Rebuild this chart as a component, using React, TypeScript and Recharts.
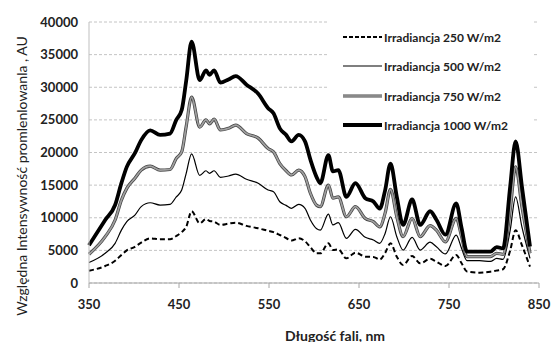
import React from 'react';
import { LineChart, Line, XAxis, YAxis, CartesianGrid, Legend, Label } from 'recharts';

const FONT = "Lato, 'Open Sans', 'DejaVu Sans', sans-serif";

const wavelengths = [350, 368, 379, 386, 392, 401, 408, 418, 429, 440, 447, 453, 458, 464, 473, 480, 484, 489, 496, 505, 513, 525, 538, 549, 555, 562, 569, 575, 583, 590, 596, 603, 607, 616, 621, 627, 636, 646, 657, 666, 673, 679, 685, 692, 699, 709, 718, 729, 736, 746, 758, 764, 770, 784, 796, 803, 810, 818, 824, 831, 840];

const irr1000 = [5800, 9650, 11950, 15300, 17800, 19900, 21900, 23400, 22700, 22900, 25000, 26500, 31000, 37000, 31100, 32600, 31900, 32600, 30700, 31200, 31700, 30400, 29000, 26800, 26000, 23700, 22700, 21700, 22700, 21700, 18900, 16200, 15300, 19600, 17100, 17300, 13200, 15300, 13000, 12500, 11400, 14200, 18300, 13200, 8900, 12800, 8900, 11000, 9700, 7400, 12200, 8400, 4800, 4800, 4800, 5500, 5300, 14800, 21700, 14800, 5600];

const irr750 = [4400, 7100, 9650, 12700, 14500, 16050, 17300, 17900, 17300, 17400, 19100, 20100, 24000, 28500, 23900, 25000, 24400, 25100, 23450, 23700, 24200, 22900, 22200, 20600, 20100, 18300, 17200, 16550, 17300, 16300, 13750, 11900, 11700, 15000, 13000, 13200, 10150, 11700, 9900, 9400, 8600, 10700, 14350, 10150, 7100, 9900, 7100, 8800, 8100, 6300, 9900, 7100, 4050, 4050, 4050, 4550, 4400, 11200, 17800, 11700, 4550];

const irr500 = [3150, 4550, 6080, 8100, 9400, 10400, 11700, 12300, 11950, 12050, 13200, 14250, 16800, 19800, 16500, 17200, 16800, 17200, 16200, 16400, 16700, 15900, 15300, 14250, 14000, 12450, 11900, 11450, 12050, 11450, 9650, 8300, 8100, 10550, 8900, 9250, 6850, 8230, 7000, 6600, 6080, 7600, 10150, 7100, 5050, 7000, 5050, 6250, 5550, 4450, 7350, 5300, 3420, 3420, 3300, 3780, 3630, 8100, 13200, 8600, 3780];

const irr250 = [1890, 2600, 3400, 4300, 5000, 5550, 6200, 6850, 6700, 6700, 7200, 7800, 8600, 11000, 9150, 9800, 9500, 9400, 8900, 9100, 9250, 8750, 8380, 8000, 7800, 7360, 6900, 6500, 6850, 6400, 5500, 4550, 4550, 6080, 5060, 5160, 3780, 4650, 4030, 4000, 3600, 4600, 6080, 4030, 2760, 4140, 3020, 3700, 3270, 2600, 4290, 3020, 1750, 1580, 1730, 1900, 2100, 5000, 8100, 5800, 2500];

const xTicks = [350, 450, 550, 650, 750, 850];
const yTicks = [0, 5000, 10000, 15000, 20000, 25000, 30000, 35000, 40000];

const seriesLabels = ['Irradiancja 250 W/m2', 'Irradiancja 500 W/m2', 'Irradiancja 750 W/m2', 'Irradiancja 1000 W/m2'];

const data = wavelengths.map((x, i) => ({
  x,
  s250: irr250[i],
  s500: irr500[i],
  s750: irr750[i],
  s1000: irr1000[i],
}));

function LegendSample({ kind, y }: { kind: number; y: number }) {
  const x1 = 16;
  const x2 = 55;
  if (kind === 0) return <line x1={x1} x2={x2} y1={y} y2={y} stroke="#000" strokeWidth={2} strokeDasharray="4 2" />;
  if (kind === 1) return <line x1={x1} x2={x2} y1={y} y2={y} stroke="#000" strokeWidth={1.2} />;
  if (kind === 2)
    return (
      <g>
        <line x1={x1} x2={x2} y1={y} y2={y} stroke="#444" strokeWidth={3.2} />
        <line x1={x1} x2={x2} y1={y} y2={y} stroke="#a0a0a0" strokeWidth={1.7} />
      </g>
    );
  return <line x1={x1} x2={x2} y1={y} y2={y} stroke="#000" strokeWidth={3.8} />;
}

function LegendContent() {
  const rows = [21, 50, 80, 109];
  return (
    <svg width={205} height={122}>
      {seriesLabels.map((label, i) => (
        <g key={label}>
          <LegendSample kind={i} y={rows[i]} />
          <text x={57} y={rows[i]} dominantBaseline="central" fontFamily={FONT} fontWeight={700} fontSize={12} fill="#222">
            {label}
          </text>
        </g>
      ))}
    </svg>
  );
}

export default function App() {
  return (
    <div style={{ position: 'absolute', left: 0, top: 0, background: '#fff' }}>
      <LineChart width={551} height={342} data={data} margin={{ top: 22, right: 12, bottom: 0, left: 0 }}>
        <CartesianGrid vertical={false} stroke="#c4c4c4" strokeDasharray="3 2" />
        <XAxis
          dataKey="x"
          type="number"
          domain={[350, 850]}
          ticks={xTicks}
          interval={0}
          height={59}
          tickSize={5}
          tickMargin={12}
          stroke="#a6a6a6"
          tick={{ fill: '#222', fontSize: 13, fontWeight: 700, fontFamily: FONT }}
        >
          <Label
            content={() => (
              <text x={335} y={335} textAnchor="middle" dominantBaseline="central" fontFamily={FONT} fontWeight={700} fontSize={14} fill="#222">
                Długość fali, nm
              </text>
            )}
          />
        </XAxis>
        <YAxis
          type="number"
          domain={[0, 40000]}
          ticks={yTicks}
          interval={0}
          width={89}
          tickSize={0}
          tickMargin={11}
          tickLine={false}
          stroke="#bfbfbf"
          tick={{ fill: '#222', fontSize: 13, fontWeight: 700, fontFamily: FONT }}
        >
          <Label
            content={() => (
              <text x={21} y={176} transform="rotate(-90 21 176)" textAnchor="middle" dominantBaseline="central" fontFamily={FONT} fontSize={14} fill="#222">
                Względna Intensywność promlenlowanla , AU
              </text>
            )}
          />
        </YAxis>
        <Legend
          layout="vertical"
          align="center"
          verticalAlign="middle"
          content={() => <LegendContent />}
          wrapperStyle={{ left: 327, top: 16, width: 205, height: 122, background: '#fff' }}
        />
        <Line type="monotone" dataKey="s250" name={seriesLabels[0]} stroke="#000" strokeWidth={2} strokeDasharray="5 3" dot={false} activeDot={false} isAnimationActive={false} />
        <Line type="monotone" dataKey="s500" name={seriesLabels[1]} stroke="#000" strokeWidth={1.2} dot={false} activeDot={false} isAnimationActive={false} />
        <Line type="monotone" dataKey="s750" name={seriesLabels[2]} stroke="#444" strokeWidth={3.2} dot={false} activeDot={false} isAnimationActive={false} legendType="none" />
        <Line type="monotone" dataKey="s750" name={seriesLabels[2] + ' '} stroke="#a0a0a0" strokeWidth={1.7} dot={false} activeDot={false} isAnimationActive={false} legendType="none" />
        <Line type="monotone" dataKey="s1000" name={seriesLabels[3]} stroke="#000" strokeWidth={3.8} dot={false} activeDot={false} isAnimationActive={false} />
      </LineChart>
    </div>
  );
}
